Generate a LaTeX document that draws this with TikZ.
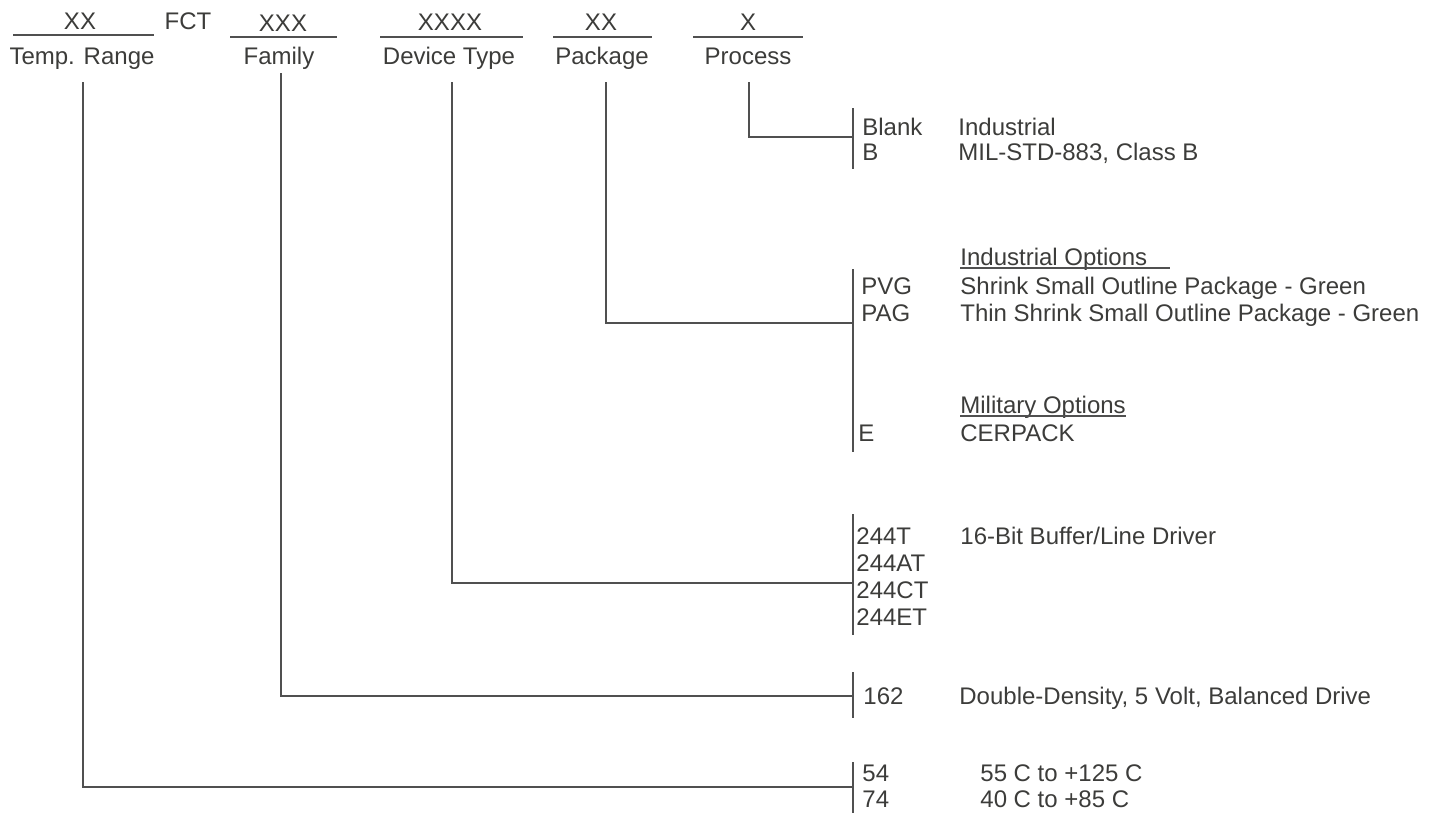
\documentclass[tikz,border=0pt]{standalone}
\usepackage{fontspec}
\setmainfont{Liberation Sans}
\usetikzlibrary{calc}
\definecolor{ink}{HTML}{3C3C3A}
\definecolor{rulec}{HTML}{505050}
\begin{document}
\begin{tikzpicture}[x=0.5pt,y=-0.5pt,
  txt/.style={inner sep=0pt, text=ink, font=\fontsize{12pt}{14pt}\selectfont, text height=8.6pt, text depth=0pt, anchor=west},
  hdr/.style={inner sep=0pt, text=ink, font=\fontsize{12pt}{14pt}\selectfont, text height=8.6pt, text depth=0pt, anchor=center},
  conn/.style={draw=rulec, line width=0.8pt},
  uline/.style={draw=rulec, line width=0.6pt}]
\useasboundingbox (0,0) rectangle (1440,815);

% header values
\node[hdr] (vTemp) at (80,21) {XX};
\node[hdr] (fct)   at (188,21) {FCT};
\node[hdr] (vFam)  at (283,23) {XXX};
\node[hdr] (vDev)  at (450,22) {XXXX};
\node[hdr] (vPkg)  at (601,22) {XX};
\node[hdr] (vProc) at (748,22) {X};
\draw[uline] (13,35) -- (154,35);
\draw[uline] (230,37) -- (337,37);
\draw[uline] (380,37) -- (523,37);
\draw[uline] (553,37) -- (652,37);
\draw[uline] (693,37) -- (803,37);

% header labels
\node[hdr] (lTemp) at (82,56) {Temp. Range};
\node[hdr] (lFam)  at (279,56) {Family};
\node[hdr] (lDev)  at (449,56) {Device Type};
\node[hdr] (lPkg)  at (602,56) {Package};
\node[hdr] (lProc) at (748,56) {Process};

% connector points
\coordinate (tTemp) at (83,82);   \coordinate (jTemp) at (853,787);
\coordinate (tFam)  at (281,73);  \coordinate (jFam)  at (853,696);
\coordinate (tDev)  at (452,82);  \coordinate (jDev)  at (853,583);
\coordinate (tPkg)  at (606,82);  \coordinate (jPkg)  at (853,323);
\coordinate (tProc) at (749,82);  \coordinate (jProc) at (853,137);

\draw[conn] (tTemp) |- (jTemp);
\draw[conn] (tFam)  |- (jFam);
\draw[conn] (tDev)  |- (jDev);
\draw[conn] (tPkg)  |- (jPkg);
\draw[conn] (tProc) |- (jProc);

% brackets
\coordinate (bProcA) at (853,108); \coordinate (bProcB) at (853,169);
\coordinate (bPkgA)  at (853,269); \coordinate (bPkgB)  at (853,452);
\coordinate (bDevA)  at (853,514); \coordinate (bDevB)  at (853,635);
\coordinate (bFamA)  at (853,672); \coordinate (bFamB)  at (853,718);
\coordinate (bTempA) at (853,762); \coordinate (bTempB) at (853,813);
\draw[conn] (bProcA) -- (bProcB);
\draw[conn] (bPkgA) -- (bPkgB);
\draw[conn] (bDevA) -- (bDevB);
\draw[conn] (bFamA) -- (bFamB);
\draw[conn] (bTempA) -- (bTempB);

% process
\node[txt] (cBlank) at (862,127) {Blank};
\node[txt] (dBlank) at (958,127) {Industrial};
\node[txt] (cB)     at (862,152) {B};
\node[txt] (dB)     at (958,152) {MIL-STD-883, Class B};

% package
\node[txt] (iopt) at (960,257) {Industrial Options};
\draw[uline] ([yshift=-1pt]iopt.south west) -- ++(210,0);
\node[txt] (cPVG) at (861,286) {PVG};
\node[txt] (dPVG) at (960,286) {Shrink Small Outline Package - Green};
\node[txt] (cPAG) at (861,313) {PAG};
\node[txt] (dPAG) at (960,313) {Thin Shrink Small Outline Package - Green};
\node[txt] (mopt) at (960,405) {Military Options};
\draw[uline] ([yshift=-1pt]mopt.south west) -- ([yshift=-1pt]mopt.south east);
\node[txt] (cE) at (858,433) {E};
\node[txt] (dE) at (960,433) {CERPACK};

% device type
\node[txt] (c244T)  at (856,536) {244T};
\node[txt] (d244T)  at (960,536) {16-Bit Buffer/Line Driver};
\node[txt] (c244AT) at (856,563) {244AT};
\node[txt] (c244CT) at (856,590) {244CT};
\node[txt] (c244ET) at (856,617) {244ET};

% family
\node[txt] (c162) at (863,696) {162};
\node[txt] (d162) at (959,696) {Double-Density, 5 Volt, Balanced Drive};

% temp range
\node[txt] (c54) at (862,773) {54};
\node[txt] (d54) at (980,773) {55 C to +125 C};
\node[txt] (c74) at (862,799) {74};
\node[txt] (d74) at (980,799) {40 C to +85 C};
\end{tikzpicture}
\end{document}
